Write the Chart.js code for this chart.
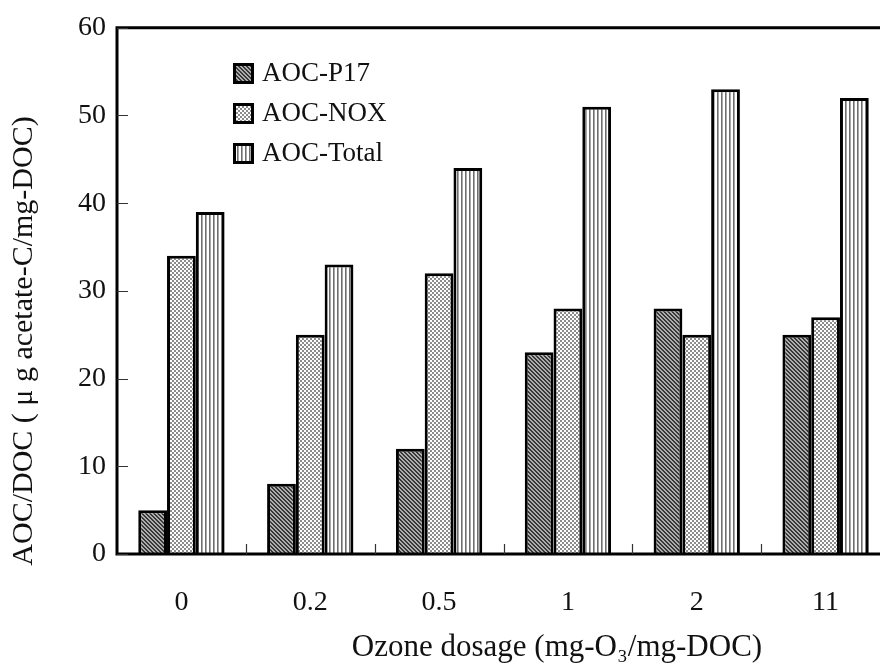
<!DOCTYPE html>
<html>
<head>
<meta charset="utf-8">
<script src="https://cdn.jsdelivr.net/npm/chart.js@4"></script>
<style>
  html, body { margin: 0; padding: 0; background: #fff; overflow: hidden; width: 880px; height: 664px; }
  #wrap { width: 900px; height: 664px; }
</style>
</head>
<body>
<div id="wrap"><canvas id="c" width="900" height="664"></canvas></div>
<script>
const categories = ['0', '0.2', '0.5', '1', '2', '11'];
const seriesNames = ['AOC-P17', 'AOC-NOX', 'AOC-Total'];
const aocP17 = [5, 8, 12, 23, 28, 25];
const aocNOX = [34, 25, 32, 28, 25, 27];
const aocTotal = [39, 33, 44, 51, 53, 52];
const yTicks = [0, 10, 20, 30, 40, 50, 60];
const xTitle = 'Ozone dosage (mg-O\u2083/mg-DOC)';
const yTitle = 'AOC/DOC ( \u03BC g acetate-C/mg-DOC)';

const FONT = '"Liberation Serif", "DejaVu Serif", serif';

function makePattern(size, painter) {
  const c = document.createElement('canvas');
  c.width = size; c.height = size;
  const g = c.getContext('2d');
  painter(g, size);
  return document.getElementById('c').getContext('2d').createPattern(c, 'repeat');
}
// dense "\" diagonal hatching, dark
const patP17 = makePattern(4, (g, s) => {
  g.fillStyle = '#adadad'; g.fillRect(0, 0, s, s);
  g.fillStyle = '#383838';
  for (let y = 0; y < s; y++) {
    for (let x = 0; x < s; x++) {
      const d = ((x - y) % 4 + 4) % 4;
      if (d === 0 || d === 1) g.fillRect(x, y, 1, 1);
    }
  }
});
// light checker
const patNOX = makePattern(4, (g, s) => {
  g.fillStyle = '#ffffff'; g.fillRect(0, 0, s, s);
  g.fillStyle = '#8c8c8c';
  g.fillRect(0, 0, 2, 2); g.fillRect(2, 2, 2, 2);
});
// vertical stripes
const patTotal = makePattern(4, (g, s) => {
  g.fillStyle = '#ffffff'; g.fillRect(0, 0, s, s);
  g.fillStyle = '#6e6e6e'; g.fillRect(1, 0, 1, s);
  g.fillStyle = '#a8a8a8'; g.fillRect(2, 0, 1, s);
});
const patterns = [patP17, patNOX, patTotal];

const framePlugin = {
  id: 'frame',
  afterDatasetsDraw(chart) {
    const ctx = chart.ctx;
    const a = chart.chartArea;
    const xs = chart.scales.x, ys = chart.scales.y;
    ctx.save();
    ctx.strokeStyle = '#000';
    ctx.lineWidth = 3;
    ctx.beginPath();
    ctx.moveTo(a.left - 1.5, a.top);
    ctx.lineTo(chart.width, a.top);
    ctx.moveTo(a.left, a.top - 1.5);
    ctx.lineTo(a.left, a.bottom + 1.5);
    ctx.moveTo(a.left - 1.5, a.bottom);
    ctx.lineTo(chart.width, a.bottom);
    ctx.stroke();
    // inward y ticks
    ctx.lineWidth = 1.2;
    ctx.strokeStyle = '#333';
    ctx.beginPath();
    yTicks.forEach(v => {
      const py = Math.round(ys.getPixelForValue(v)) + 0.5;
      ctx.moveTo(a.left, py);
      ctx.lineTo(a.left + 11, py);
    });
    // inward x ticks between categories
    for (let i = 1; i < categories.length; i++) {
      const px = Math.round((xs.getPixelForTick(i - 1) + xs.getPixelForTick(i)) / 2) + 0.5;
      ctx.moveTo(px, a.bottom);
      ctx.lineTo(px, a.bottom - 10);
    }
    ctx.stroke();

    // legend
    ctx.font = '27px ' + FONT;
    ctx.textBaseline = 'middle';
    ctx.textAlign = 'left';
    chart.data.datasets.forEach((ds, i) => {
      const bx = 233, by = 63 + 40 * i;
      ctx.fillStyle = ds.backgroundColor;
      ctx.fillRect(bx, by, 21, 21);
      ctx.lineWidth = 3;
      ctx.strokeStyle = '#000';
      ctx.strokeRect(bx + 1.5, by + 1.5, 18, 18);
      ctx.fillStyle = '#111';
      ctx.fillText(ds.label, 262, by + 11);
    });

    // axis titles
    ctx.fillStyle = '#111';
    ctx.font = '31px ' + FONT;
    ctx.textBaseline = 'alphabetic';
    ctx.textAlign = 'center';
    ctx.fillText(xTitle, 557, 656);
    ctx.font = '30px ' + FONT;
    ctx.save();
    ctx.translate(32, 341);
    ctx.rotate(-Math.PI / 2);
    ctx.fillText(yTitle, 0, 0);
    ctx.restore();
    ctx.restore();
  }
};

new Chart(document.getElementById('c'), {
  type: 'bar',
  data: {
    labels: categories,
    datasets: [
      { label: seriesNames[0], data: aocP17, backgroundColor: patterns[0] },
      { label: seriesNames[1], data: aocNOX, backgroundColor: patterns[1] },
      { label: seriesNames[2], data: aocTotal, backgroundColor: patterns[2] }
    ]
  },
  options: {
    responsive: false,
    animation: false,
    devicePixelRatio: 1,
    layout: { padding: { top: 23, right: 10, left: 0, bottom: 0 } },
    datasets: {
      bar: {
        borderColor: '#000',
        borderWidth: 3,
        categoryPercentage: 0.67,
        barPercentage: 1.0
      }
    },
    plugins: {
      legend: { display: false },
      tooltip: { enabled: false },
      title: { display: false }
    },
    scales: {
      x: {
        grid: { display: false, drawTicks: false },
        border: { display: false },
        ticks: { color: '#111', font: { family: FONT, size: 28 }, padding: 32 },
        afterFit(s) { s.height = 110; }
      },
      y: {
        min: 0, max: 60,
        grid: { display: false, drawTicks: false },
        border: { display: false },
        ticks: { stepSize: 10, color: '#111', font: { family: FONT, size: 28 }, padding: 11 },
        afterFit(s) { s.width = 117; }
      }
    }
  },
  plugins: [framePlugin]
});
</script>
</body>
</html>
